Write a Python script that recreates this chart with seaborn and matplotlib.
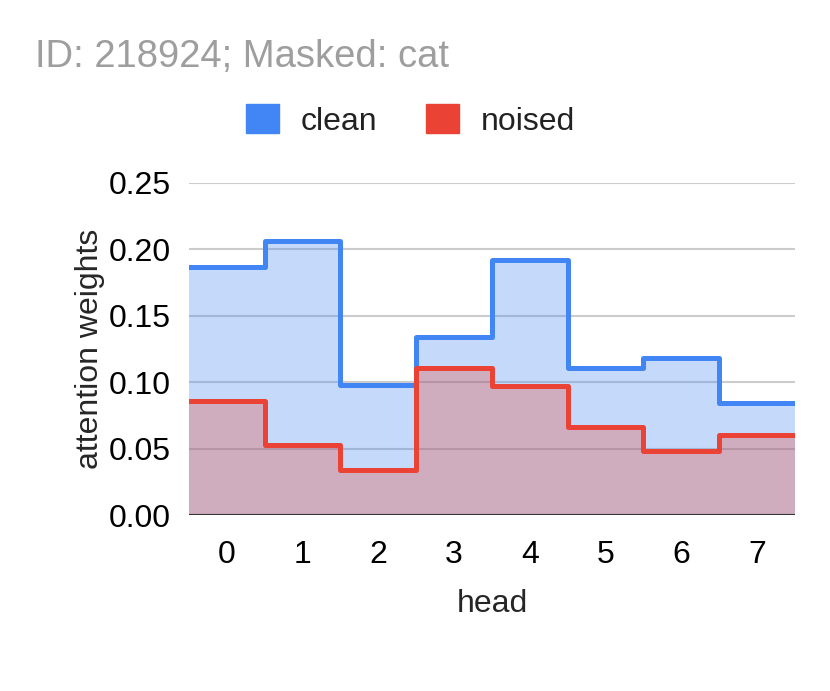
import numpy as np
import pandas as pd
import matplotlib.pyplot as plt
import seaborn as sns
from matplotlib.patches import Patch

# valores
heads = [0, 1, 2, 3, 4, 5, 6, 7]
clean = [0.187, 0.206, 0.098, 0.134, 0.192, 0.111, 0.118, 0.084]
noised = [0.086, 0.053, 0.034, 0.111, 0.097, 0.066, 0.048, 0.060]

cor_clean = '#4285F4'
cor_noised = '#EA4335'

sns.set_style("white")
plt.rcParams['font.family'] = ['Liberation Sans', 'DejaVu Sans']

# bordas dos degraus
x_edges = np.arange(len(heads) + 1) - 0.5
df = pd.DataFrame({
    'x': x_edges,
    'clean': np.append(clean, clean[-1]),
    'noised': np.append(noised, noised[-1]),
})

fig = plt.figure(figsize=(8.3, 6.91), dpi=100)
ax = fig.add_axes([0.2277, 0.2547, 0.7301, 0.4805])

ax.fill_between(df['x'], 0, df['clean'], step='post', color=cor_clean, alpha=0.3, linewidth=0, zorder=2)
ax.fill_between(df['x'], 0, df['noised'], step='post', color=cor_noised, alpha=0.3, linewidth=0, zorder=2)
sns.lineplot(data=df, x='x', y='clean', ax=ax, color=cor_clean, linewidth=3.6,
             drawstyle='steps-post', solid_joinstyle='round', zorder=3)
sns.lineplot(data=df, x='x', y='noised', ax=ax, color=cor_noised, linewidth=3.6,
             drawstyle='steps-post', solid_joinstyle='round', zorder=3)

ax.set_xlim(-0.5, len(heads) - 0.5)
ax.set_ylim(0, 0.25)
ax.set_yticks([0, 0.05, 0.10, 0.15, 0.20, 0.25])
ax.set_yticklabels(['0.00', '0.05', '0.10', '0.15', '0.20', '0.25'])
ax.set_xticks(heads)
ax.set_xticklabels([str(h) for h in heads])
ax.yaxis.grid(True, color='#cccccc', linewidth=1.5, zorder=1)
ax.set_axisbelow(True)
ax.axhline(0, color='#333333', linewidth=1.5, zorder=4)
for s in ax.spines.values():
    s.set_visible(False)
ax.tick_params(axis='y', length=0, labelsize=23, pad=13, colors='#000000')
ax.tick_params(axis='x', length=0, labelsize=23, pad=18, colors='#000000')

ax.set_xlabel('head', fontsize=23, labelpad=14)
ax.set_ylabel('attention weights', fontsize=23, labelpad=3)

fig.text(0.042, 0.917, 'ID: 218924; Masked: cat', fontsize=27.5, color='#9e9e9e', va='center')

handles = [Patch(facecolor=cor_clean, edgecolor=cor_clean, label='clean'),
           Patch(facecolor=cor_noised, edgecolor=cor_noised, label='noised')]
leg = fig.legend(handles=handles, loc='center', bbox_to_anchor=(0.4946, 0.8256), ncol=2, frameon=False,
                 fontsize=23, handlelength=1.03, handleheight=1.03, handletextpad=0.69, columnspacing=1.53)
for t in leg.get_texts():
    t.set_color('#222222')

plt.savefig('out.png', dpi=100)
